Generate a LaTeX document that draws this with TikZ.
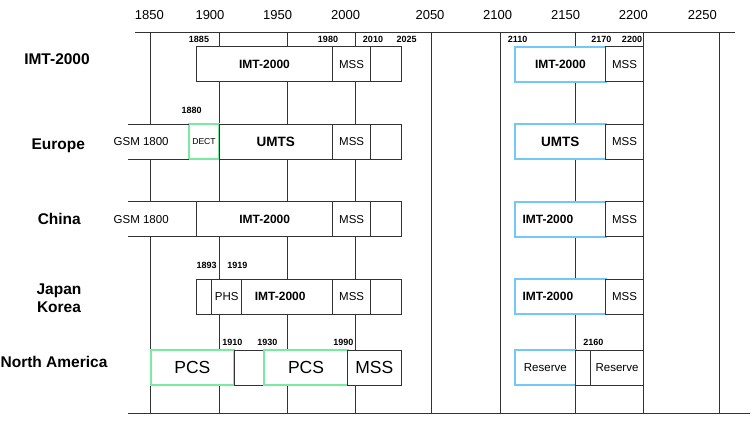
\documentclass[tikz,border=0pt]{standalone}
\usepackage{fontspec}
\setmainfont{Liberation Sans}
\usetikzlibrary{positioning}
\definecolor{lineG}{RGB}{120,235,160}
\definecolor{lineC}{RGB}{115,200,250}

\begin{document}
\begin{tikzpicture}[x=1pt, y=-1pt,
  every node/.style={inner sep=0pt, outer sep=0pt},
  yr/.style={font=\fontsize{13}{15}\selectfont},
  yrs/.style={font=\fontsize{9}{11}\selectfont\bfseries},
  rowlbl/.style={font=\fontsize{15.5}{18.7}\selectfont\bfseries, align=center},
  bline/.style={draw=black!80, line width=1pt},
  bx/.style={bline, fill=white, minimum height=35pt, anchor=north west, font=\fontsize{11.5}{13}\selectfont},
  bxO/.style={fill=white, minimum height=35pt, anchor=north west, font=\fontsize{11.5}{13}\selectfont},
  bxG/.style={bx, draw=lineG, line width=1.8pt},
  bxC/.style={bx, draw=lineC, line width=1.8pt},
  bold/.style={font=\fontsize{12}{14}\selectfont\bfseries},
  big/.style={font=\fontsize{17.5}{20}\selectfont}
]
\useasboundingbox (0,0) rectangle (755,428);
% axis and grid
\foreach \x/\t in {149.3/1850,210/1900,277.7/1950,345.7/2000,430/2050,497.7/2100,565.7/2150,633.3/2200,702.3/2250}
  \node[yr] at (\x,15.5) {\t};
\draw[bline] (135,32.3) -- (735,32.3);
\draw[bline] (128,413) -- (750,413);
\foreach \x in {150.7,219,287.3,355.7,431.7,500,575.7,643.3,719.3}
  \draw[bline] (\x,32.3) -- (\x,413);

% row labels
\node[rowlbl] (lImt) at (57,59) {IMT-2000};
\node[rowlbl] (lEur) at (58.3,145.7) {Europe};
\node[rowlbl] (lChn) at (59.3,219) {China};
\node[rowlbl] (lJpk) at (59,298.3) {Japan\\Korea};
\node[rowlbl] (lNam) at (54,361.7) {North America};

% IMT-2000
\node[bx, bold, minimum width=135.6pt] (imtI) at (196.7,46.7) {IMT-2000};
\node[bx, minimum width=38.4pt, right=0pt of imtI] (mssI) {MSS};
\node[bx, minimum width=30.3pt, right=0pt of mssI] (endI) {};
\node[bxC, bold, minimum width=90.7pt] (imtIr) at (515,46.7) {IMT-2000};
\node[bx, minimum width=37.6pt, right=0pt of imtIr] (mssIr) {MSS};
\foreach \x/\t in {199/1885,328/1980,373/2010,406.7/2025,517.7/2110,601.3/2170,632/2200}
  \node[yrs] at (\x,39.7) {\t};

% Europe
\node[bxO, minimum width=60.7pt] (gsmE) at (128.3,124.3) {\makebox[0pt]{GSM 1800\kern35pt}};
\node[bxG, minimum width=30pt, font=\fontsize{8.6}{10}\selectfont, right=0pt of gsmE] (dectE) {DECT};
\node[bx, minimum width=113.7pt, right=0pt of dectE, font=\fontsize{13.5}{15}\selectfont\bfseries] (umtsE) {UMTS};
\node[bx, minimum width=38pt, right=0pt of umtsE] (mssE) {MSS};
\node[bx, minimum width=30.3pt, right=0pt of mssE] (endE) {};
\draw[bline] (gsmE.north west) -- (dectE.north west);
\draw[bline] (gsmE.south west) -- (dectE.south west);
\node[bxC, minimum width=90.7pt, font=\fontsize{13.5}{15}\selectfont\bfseries] (umtsEr) at (515,124.3) {UMTS};
\node[bx, minimum width=37.6pt, right=0pt of umtsEr] (mssEr) {MSS};
\node[yrs] at (191.7,110.7) {1880};

% China
\node[bxO, minimum width=68.4pt] (gsmC) at (128.3,201.7) {\makebox[0pt]{GSM 1800\kern42.6pt}};
\node[bx, bold, minimum width=136pt, right=0pt of gsmC] (imtC) {IMT-2000};
\node[bx, minimum width=38pt, right=0pt of imtC] (mssC) {MSS};
\node[bx, minimum width=30.3pt, right=0pt of mssC] (endC) {};
\draw[bline] (gsmC.north west) -- (imtC.north west);
\draw[bline] (gsmC.south west) -- (imtC.south west);
\node[bxC, bold, minimum width=90.7pt] (imtCr) at (515,201.7) {IMT-2000\kern25pt};
\node[bx, minimum width=37.6pt, right=0pt of imtCr] (mssCr) {MSS};

% Japan / Korea
\node[bx, minimum width=15pt] (begJ) at (196.7,279.3) {};
\node[bx, minimum width=30pt, right=0pt of begJ] (phsJ) {PHS};
\node[bx, bold, minimum width=91pt, right=0pt of phsJ] (imtJ) {IMT-2000\kern14pt};
\node[bx, minimum width=38pt, right=0pt of imtJ] (mssJ) {MSS};
\node[bx, minimum width=30.3pt, right=0pt of mssJ] (endJ) {};
\node[bxC, bold, minimum width=90.7pt] (imtJr) at (515,279.3) {IMT-2000\kern25pt};
\node[bx, minimum width=37.6pt, right=0pt of imtJr] (mssJr) {MSS};
\node[yrs] at (206.7,265.7) {1893};
\node[yrs] at (237.3,265.7) {1919};

% North America
\node[bxG, big, minimum width=83.3pt] (pcsN) at (150.7,350) {PCS};
\node[bx, minimum width=30.3pt, right=0pt of pcsN] (gapN) {};
\node[bxG, big, minimum width=83.4pt, right=0pt of gapN] (pcs2N) {PCS};
\node[bx, big, minimum width=53.3pt, right=0pt of pcs2N] (mssN) {MSS};
\node[bxC, minimum width=60.7pt] (resN) at (515,350) {Reserve};
\node[bx, minimum width=15pt, right=0pt of resN] (gapNr) {};
\node[bx, minimum width=52.6pt, right=0pt of gapNr] (res2N) {Reserve};
\foreach \x/\t in {232.3/1910,267.3/1930,343.3/1990,593.3/2160}
  \node[yrs] at (\x,342.3) {\t};
\end{tikzpicture}
\end{document}
